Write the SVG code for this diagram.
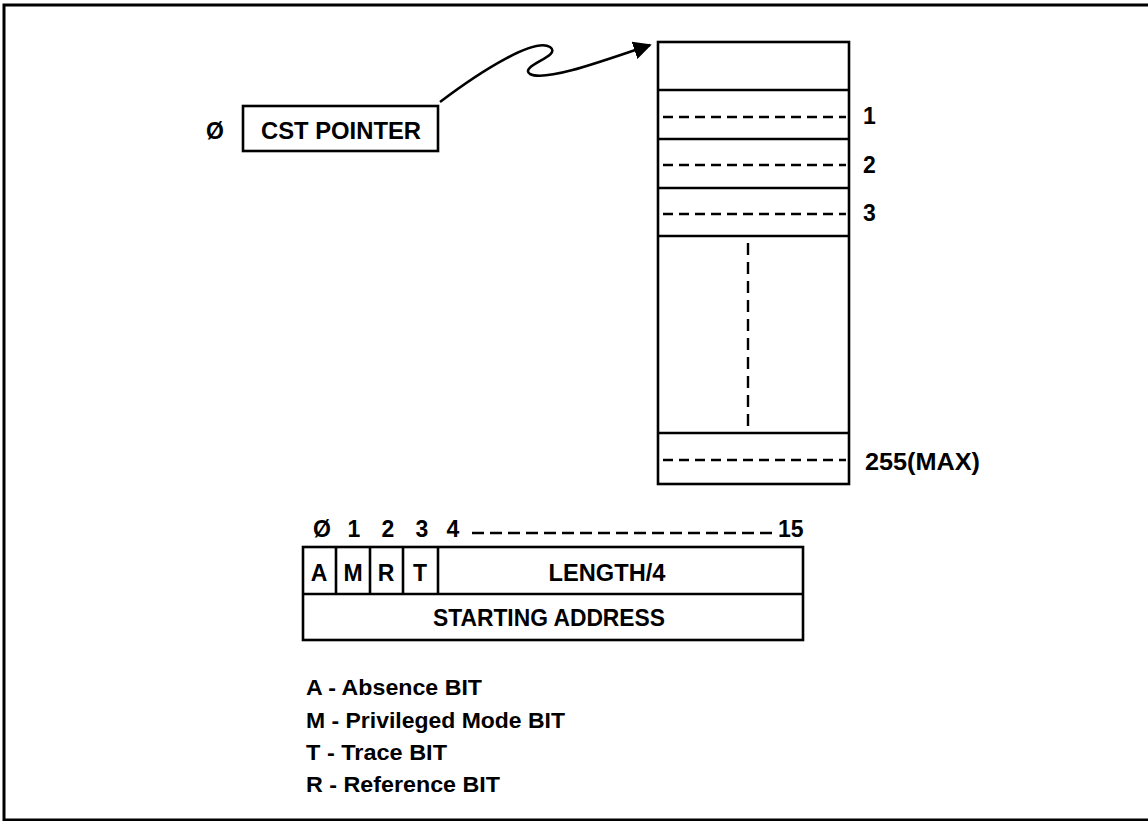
<svg xmlns="http://www.w3.org/2000/svg" width="1148" height="821" viewBox="0 0 1148 821">
<defs>
<style>
.ln{fill:none;stroke:#000;stroke-width:2.6}
.fr{fill:none;stroke:#000;stroke-width:3}
.dash{fill:none;stroke:#000;stroke-width:2.4;stroke-dasharray:10 6}
.t{font-family:"Liberation Sans",Arial,sans-serif;font-weight:bold;fill:#000}
.lbl{font-size:23px}
.leg{font-size:22px}
.mid{text-anchor:middle}
</style>
<marker id="ah" viewBox="0 0 10 10" refX="9" refY="5" markerWidth="7" markerHeight="7" orient="auto" markerUnits="strokeWidth">
<path d="M0,0 L10,5 L0,10 z" fill="#000"/>
</marker>
</defs>
<rect width="1148" height="821" fill="#fff"/>
<g id="frame">
<path class="fr" d="M1148,5 L4,5 L4,820 L1148,820"/>
</g>
<g id="cst-pointer">
<rect class="ln" x="243" y="106" width="195" height="45"/>
<text class="t lbl" x="215" y="139" text-anchor="middle">Ø</text>
<text class="t lbl" x="341" y="139" text-anchor="middle" textLength="160" lengthAdjust="spacingAndGlyphs">CST POINTER</text>
</g>
<g id="cst-table">
<rect class="ln" x="658" y="42" width="191" height="442"/>
<line class="ln" x1="658" y1="90" x2="849" y2="90"/>
<line class="ln" x1="658" y1="139" x2="849" y2="139"/>
<line class="ln" x1="658" y1="188" x2="849" y2="188"/>
<line class="ln" x1="658" y1="236" x2="849" y2="236"/>
<line class="ln" x1="658" y1="433" x2="849" y2="433"/>
<line class="dash" x1="663" y1="117" x2="846" y2="117"/>
<line class="dash" x1="663" y1="165" x2="846" y2="165"/>
<line class="dash" x1="663" y1="214" x2="846" y2="214"/>
<line class="dash" x1="663" y1="460" x2="846" y2="460"/>
<line class="dash" x1="748" y1="243" x2="748" y2="428" style="stroke-dasharray:12 7"/>
<text class="t lbl" x="863" y="124">1</text>
<text class="t lbl" x="863" y="173">2</text>
<text class="t lbl" x="863" y="221">3</text>
<text class="t lbl" x="865" y="470" textLength="115" lengthAdjust="spacingAndGlyphs">255(MAX)</text>
</g>
<g id="connectors">
<path class="ln" d="M440,102 C485,68 535,38 550,47 C563,56 518,66 530,74 C545,82 600,62 650,45" marker-end="url(#ah)"/>
</g>
<g id="register">
<rect class="ln" x="303" y="547" width="500" height="93"/>
<line class="ln" x1="303" y1="594" x2="803" y2="594"/>
<line class="ln" x1="336" y1="547" x2="336" y2="594"/>
<line class="ln" x1="370" y1="547" x2="370" y2="594"/>
<line class="ln" x1="403" y1="547" x2="403" y2="594"/>
<line class="ln" x1="438" y1="547" x2="438" y2="594"/>
<text class="t lbl mid" x="319" y="581">A</text>
<text class="t lbl mid" x="353" y="581">M</text>
<text class="t lbl mid" x="386" y="581">R</text>
<text class="t lbl mid" x="420" y="581">T</text>
<text class="t lbl mid" x="607" y="581" textLength="117" lengthAdjust="spacingAndGlyphs">LENGTH/4</text>
<text class="t lbl mid" x="549" y="626" textLength="232" lengthAdjust="spacingAndGlyphs">STARTING ADDRESS</text>
<text class="t lbl mid" x="322" y="537">Ø</text>
<text class="t lbl mid" x="354" y="537">1</text>
<text class="t lbl mid" x="388" y="537">2</text>
<text class="t lbl mid" x="422" y="537">3</text>
<text class="t lbl mid" x="453" y="537">4</text>
<line class="dash" x1="472" y1="533" x2="776" y2="533" style="stroke-dasharray:12 6"/>
<text class="t lbl" x="778" y="537">15</text>
</g>
<g id="legend">
<text class="t leg" x="306" y="695" textLength="176" lengthAdjust="spacingAndGlyphs">A - Absence BIT</text>
<text class="t leg" x="306" y="728" textLength="259" lengthAdjust="spacingAndGlyphs">M - Privileged Mode BIT</text>
<text class="t leg" x="306" y="760" textLength="141" lengthAdjust="spacingAndGlyphs">T - Trace BIT</text>
<text class="t leg" x="306" y="792" textLength="194" lengthAdjust="spacingAndGlyphs">R - Reference BIT</text>
</g>
</svg>
